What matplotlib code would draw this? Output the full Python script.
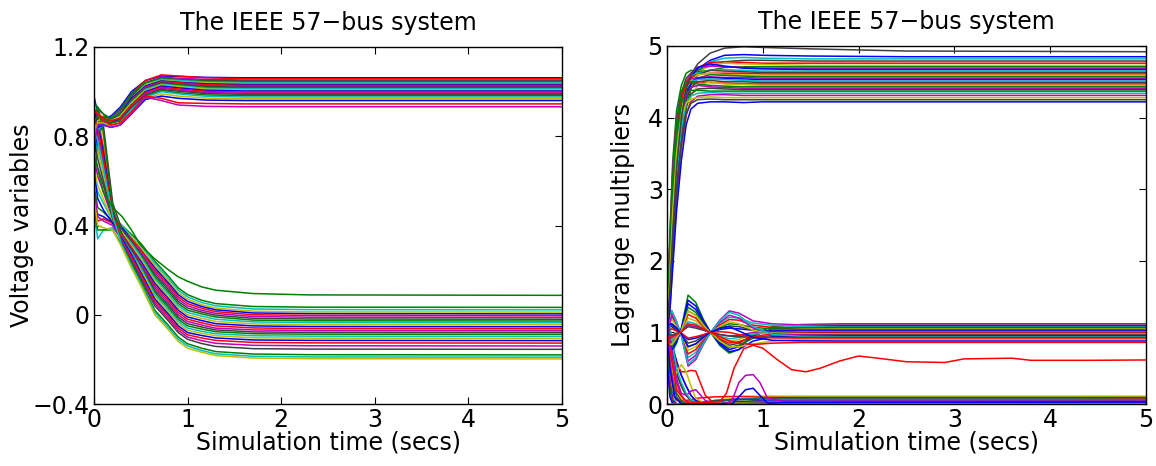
import matplotlib
matplotlib.use("Agg")
import matplotlib.pyplot as plt

plt.rcParams['font.family'] = ['DejaVu Sans']

# MATLAB (pre-2014) default colour order
line_colors = [(0, 0, 1), (0, 0.5, 0), (1, 0, 0), (0, 0.75, 0.75),
               (0.75, 0, 0.75), (0.75, 0.75, 0), (0.25, 0.25, 0.25)]

title_text = "The IEEE 57\u2212bus system"
xlabel_text = "Simulation time (secs)"
left_ylabel = "Voltage variables"
right_ylabel = "Lagrange multipliers"
left_yticks = [-0.4, 0, 0.4, 0.8, 1.2]
left_yticklabels = ["\u22120.4", "0", "0.4", "0.8", "1.2"]
right_yticks = [0, 1, 2, 3, 4, 5]
xticks = [0, 1, 2, 3, 4, 5]

# ---------------- left panel: voltage magnitudes (upper bundle) ----------
t_upper = [0, 0.04, 0.1, 0.18, 0.28, 0.4, 0.55, 0.72, 0.9, 1.2, 1.6, 2.5, 5.0]
v_upper = [
    [0.98, 0.90, 0.88, 0.89, 0.93, 1.00, 1.05, 1.070, 1.068, 1.064, 1.062, 1.062, 1.062],
    [0.62, 0.84, 0.87, 0.88, 0.92, 0.99, 1.05, 1.075, 1.070, 1.062, 1.058, 1.058, 1.058],
    [0.90, 0.92, 0.90, 0.87, 0.91, 0.99, 1.04, 1.065, 1.060, 1.055, 1.052, 1.052, 1.052],
    [0.70, 0.85, 0.86, 0.86, 0.90, 0.98, 1.04, 1.060, 1.055, 1.050, 1.048, 1.048, 1.048],
    [0.85, 0.88, 0.89, 0.88, 0.92, 0.99, 1.04, 1.058, 1.052, 1.046, 1.044, 1.044, 1.044],
    [0.55, 0.80, 0.85, 0.86, 0.89, 0.97, 1.03, 1.055, 1.050, 1.043, 1.040, 1.040, 1.040],
    [0.93, 0.91, 0.88, 0.87, 0.90, 0.97, 1.03, 1.050, 1.045, 1.039, 1.036, 1.036, 1.036],
    [0.78, 0.86, 0.87, 0.87, 0.90, 0.97, 1.025, 1.048, 1.042, 1.035, 1.032, 1.032, 1.032],
    [0.66, 0.83, 0.86, 0.86, 0.89, 0.96, 1.02, 1.045, 1.040, 1.031, 1.028, 1.028, 1.028],
    [0.88, 0.90, 0.88, 0.87, 0.89, 0.96, 1.02, 1.042, 1.036, 1.027, 1.024, 1.024, 1.024],
    [0.72, 0.85, 0.86, 0.86, 0.88, 0.95, 1.015, 1.040, 1.033, 1.023, 1.020, 1.020, 1.020],
    [0.95, 0.93, 0.90, 0.88, 0.90, 0.96, 1.01, 1.036, 1.030, 1.019, 1.016, 1.016, 1.016],
    [0.60, 0.82, 0.85, 0.86, 0.88, 0.95, 1.01, 1.033, 1.026, 1.015, 1.012, 1.012, 1.012],
    [0.82, 0.87, 0.87, 0.87, 0.89, 0.95, 1.005, 1.030, 1.022, 1.011, 1.008, 1.008, 1.008],
    [0.68, 0.84, 0.86, 0.86, 0.88, 0.94, 1.00, 1.025, 1.017, 1.006, 1.003, 1.003, 1.003],
    [0.91, 0.90, 0.88, 0.87, 0.88, 0.94, 0.995, 1.020, 1.012, 1.001, 0.998, 0.998, 0.998],
    [0.75, 0.86, 0.87, 0.86, 0.87, 0.93, 0.99, 1.015, 1.007, 0.996, 0.993, 0.993, 0.993],
    [0.58, 0.81, 0.85, 0.86, 0.87, 0.93, 0.985, 1.010, 1.002, 0.991, 0.988, 0.988, 0.988],
    [0.86, 0.89, 0.88, 0.86, 0.87, 0.92, 0.98, 1.005, 0.995, 0.985, 0.982, 0.982, 0.982],
    [0.64, 0.83, 0.85, 0.85, 0.86, 0.92, 0.975, 1.000, 0.990, 0.979, 0.976, 0.976, 0.976],
    [0.80, 0.86, 0.86, 0.85, 0.86, 0.91, 0.97, 0.990, 0.980, 0.971, 0.968, 0.968, 0.968],
    [0.70, 0.84, 0.85, 0.84, 0.85, 0.90, 0.965, 0.980, 0.970, 0.962, 0.960, 0.960, 0.960],
    [0.92, 0.90, 0.87, 0.85, 0.86, 0.91, 0.98, 0.970, 0.950, 0.947, 0.945, 0.945, 0.945],
    [0.76, 0.85, 0.85, 0.84, 0.85, 0.90, 0.975, 0.960, 0.940, 0.934, 0.932, 0.932, 0.932],
]

# ---------------- left panel: voltage angles (lower bundle) --------------
t_lower = [0, 0.04, 0.1, 0.2, 0.3, 0.4, 0.5, 0.65, 0.8, 0.9, 1.0, 1.15, 1.3, 1.7, 2.3, 5.0]
v_lower = [
    [0.90, 0.86, 0.70, 0.44, 0.40, 0.36, 0.32, 0.24, 0.17, 0.12, 0.09, 0.065, 0.05, 0.037, 0.034, 0.033],
    [0.62, 0.55, 0.50, 0.42, 0.40, 0.35, 0.31, 0.23, 0.16, 0.11, 0.08, 0.055, 0.04, 0.026, 0.023, 0.022],
    [0.85, 0.90, 0.80, 0.46, 0.39, 0.35, 0.30, 0.22, 0.15, 0.10, 0.07, 0.045, 0.03, 0.016, 0.013, 0.012],
    [0.50, 0.45, 0.44, 0.41, 0.39, 0.34, 0.29, 0.21, 0.14, 0.09, 0.06, 0.037, 0.022, 0.008, 0.005, 0.004],
    [0.93, 0.88, 0.75, 0.45, 0.38, 0.34, 0.29, 0.20, 0.13, 0.08, 0.05, 0.029, 0.014, 0.0, -0.003, -0.004],
    [0.70, 0.62, 0.55, 0.43, 0.38, 0.33, 0.28, 0.19, 0.12, 0.07, 0.04, 0.020, 0.006, -0.008, -0.011, -0.012],
    [0.88, 0.92, 0.85, 0.50, 0.38, 0.33, 0.27, 0.18, 0.11, 0.06, 0.03, 0.012, -0.002, -0.016, -0.019, -0.020],
    [0.58, 0.48, 0.46, 0.42, 0.37, 0.32, 0.27, 0.17, 0.10, 0.05, 0.02, 0.004, -0.010, -0.024, -0.027, -0.028],
    [0.80, 0.75, 0.65, 0.44, 0.37, 0.32, 0.26, 0.16, 0.09, 0.04, 0.01, -0.006, -0.020, -0.032, -0.035, -0.036],
    [0.66, 0.58, 0.52, 0.42, 0.37, 0.31, 0.25, 0.15, 0.08, 0.03, 0.0, -0.016, -0.030, -0.041, -0.044, -0.045],
    [0.92, 0.86, 0.72, 0.46, 0.36, 0.30, 0.24, 0.14, 0.07, 0.02, -0.01, -0.026, -0.040, -0.050, -0.053, -0.054],
    [0.54, 0.42, 0.43, 0.41, 0.36, 0.30, 0.23, 0.13, 0.06, 0.01, -0.02, -0.036, -0.050, -0.059, -0.062, -0.063],
    [0.86, 0.80, 0.68, 0.44, 0.36, 0.29, 0.23, 0.12, 0.05, 0.0, -0.03, -0.046, -0.060, -0.068, -0.071, -0.072],
    [0.74, 0.66, 0.58, 0.43, 0.35, 0.29, 0.22, 0.11, 0.04, -0.01, -0.04, -0.055, -0.068, -0.077, -0.079, -0.080],
    [0.90, 0.93, 0.82, 0.48, 0.35, 0.28, 0.21, 0.10, 0.03, -0.02, -0.05, -0.064, -0.076, -0.085, -0.087, -0.088],
    [0.46, 0.34, 0.38, 0.39, 0.34, 0.28, 0.21, 0.09, 0.02, -0.03, -0.06, -0.074, -0.085, -0.094, -0.096, -0.097],
    [0.82, 0.74, 0.62, 0.43, 0.34, 0.27, 0.20, 0.08, 0.01, -0.04, -0.07, -0.083, -0.094, -0.103, -0.105, -0.106],
    [0.64, 0.52, 0.47, 0.41, 0.34, 0.27, 0.19, 0.07, 0.0, -0.05, -0.08, -0.093, -0.104, -0.113, -0.115, -0.116],
    [0.88, 0.84, 0.70, 0.45, 0.33, 0.26, 0.18, 0.06, -0.01, -0.06, -0.09, -0.104, -0.115, -0.124, -0.126, -0.127],
    [0.56, 0.44, 0.42, 0.40, 0.33, 0.25, 0.17, 0.05, -0.02, -0.07, -0.10, -0.116, -0.128, -0.137, -0.139, -0.140],
    [0.78, 0.70, 0.60, 0.43, 0.32, 0.24, 0.16, 0.04, -0.03, -0.08, -0.11, -0.129, -0.142, -0.152, -0.154, -0.155],
    [0.48, 0.38, 0.38, 0.38, 0.31, 0.23, 0.15, 0.02, -0.05, -0.10, -0.13, -0.150, -0.165, -0.176, -0.179, -0.180],
    [0.84, 0.78, 0.66, 0.44, 0.31, 0.22, 0.14, 0.01, -0.06, -0.11, -0.14, -0.160, -0.175, -0.186, -0.189, -0.190],
    [0.52, 0.40, 0.39, 0.38, 0.30, 0.21, 0.13, 0.0, -0.07, -0.12, -0.15, -0.168, -0.183, -0.194, -0.197, -0.198],
]
# the one angle that settles near 0.09 (green)
v_lower_green = [0.72, 0.65, 0.55, 0.48, 0.44, 0.38, 0.31, 0.25, 0.20, 0.17, 0.15, 0.125, 0.11, 0.095, 0.089, 0.087]

# ---------------- right panel: multipliers near 4.2-4.9 --------------------
t_high = [0, 0.03, 0.06, 0.1, 0.15, 0.2, 0.25, 0.32, 0.45, 0.6, 0.8, 1.0, 1.5, 2.5, 5.0]
# top (dark grey) multiplier
m_high_gray = [1.0, 1.6, 2.4, 3.3, 4.0, 4.4, 4.6, 4.75, 4.9, 4.97, 4.99, 4.98, 4.96, 4.93, 4.92]
m_high = [
    [1.1, 1.9, 2.8, 3.6, 4.2, 4.45, 4.58, 4.68, 4.8, 4.87, 4.88, 4.87, 4.86, 4.85, 4.85],
    [0.9, 1.5, 2.3, 3.2, 3.9, 4.3, 4.5, 4.66, 4.78, 4.83, 4.84, 4.83, 4.82, 4.82, 4.82],
    [1.2, 2.2, 3.2, 3.9, 4.35, 4.55, 4.62, 4.66, 4.72, 4.78, 4.80, 4.80, 4.79, 4.79, 4.79],
    [1.0, 1.7, 2.6, 3.4, 4.0, 4.35, 4.55, 4.7, 4.77, 4.78, 4.77, 4.76, 4.76, 4.76, 4.76],
    [0.8, 1.3, 2.0, 2.9, 3.6, 4.1, 4.4, 4.62, 4.74, 4.76, 4.75, 4.74, 4.73, 4.73, 4.73],
    [1.3, 2.4, 3.4, 4.1, 4.45, 4.62, 4.66, 4.64, 4.66, 4.7, 4.71, 4.71, 4.71, 4.71, 4.71],
    [1.0, 1.9, 2.9, 3.7, 4.25, 4.5, 4.62, 4.7, 4.72, 4.71, 4.7, 4.69, 4.69, 4.69, 4.69],
    [0.9, 1.6, 2.5, 3.3, 3.95, 4.35, 4.55, 4.7, 4.75, 4.72, 4.69, 4.68, 4.67, 4.67, 4.67],
    [1.1, 2.0, 3.0, 3.8, 4.3, 4.5, 4.58, 4.62, 4.66, 4.67, 4.66, 4.65, 4.65, 4.65, 4.65],
    [1.0, 1.5, 2.3, 3.1, 3.8, 4.25, 4.47, 4.6, 4.66, 4.65, 4.64, 4.63, 4.63, 4.63, 4.63],
    [1.2, 2.1, 3.1, 3.85, 4.3, 4.5, 4.57, 4.6, 4.62, 4.62, 4.62, 4.61, 4.61, 4.61, 4.61],
    [0.9, 1.8, 2.7, 3.5, 4.1, 4.4, 4.52, 4.6, 4.62, 4.6, 4.6, 4.59, 4.59, 4.59, 4.59],
    [1.0, 1.4, 2.2, 3.0, 3.7, 4.15, 4.4, 4.55, 4.6, 4.59, 4.58, 4.57, 4.57, 4.57, 4.57],
    [1.1, 2.3, 3.3, 4.0, 4.35, 4.5, 4.54, 4.56, 4.57, 4.56, 4.56, 4.55, 4.55, 4.55, 4.55],
    [0.85, 1.6, 2.5, 3.3, 3.95, 4.3, 4.47, 4.55, 4.56, 4.55, 4.54, 4.53, 4.53, 4.53, 4.53],
    [1.0, 1.9, 2.9, 3.7, 4.2, 4.42, 4.5, 4.53, 4.54, 4.53, 4.52, 4.51, 4.51, 4.51, 4.51],
    [1.2, 1.7, 2.5, 3.3, 3.9, 4.25, 4.42, 4.5, 4.52, 4.5, 4.5, 4.49, 4.49, 4.49, 4.49],
    [0.95, 2.0, 3.0, 3.8, 4.25, 4.45, 4.5, 4.5, 4.49, 4.48, 4.47, 4.47, 4.47, 4.47, 4.47],
    [1.0, 1.3, 2.0, 2.8, 3.5, 4.0, 4.3, 4.45, 4.5, 4.47, 4.46, 4.45, 4.45, 4.45, 4.45],
    [1.1, 2.2, 3.2, 3.95, 4.35, 4.5, 4.5, 4.47, 4.45, 4.44, 4.43, 4.43, 4.43, 4.43, 4.43],
    [0.9, 1.7, 2.6, 3.4, 4.0, 4.3, 4.42, 4.45, 4.43, 4.42, 4.41, 4.41, 4.41, 4.41, 4.41],
    [1.0, 1.5, 2.3, 3.1, 3.75, 4.15, 4.33, 4.4, 4.41, 4.4, 4.39, 4.39, 4.39, 4.39, 4.39],
    [1.15, 2.1, 3.0, 3.75, 4.2, 4.35, 4.38, 4.38, 4.37, 4.37, 4.37, 4.37, 4.37, 4.37, 4.37],
    [0.95, 1.6, 2.4, 3.2, 3.85, 4.2, 4.3, 4.34, 4.35, 4.34, 4.34, 4.34, 4.34, 4.34, 4.34],
    [1.0, 1.4, 2.1, 2.9, 3.6, 4.05, 4.22, 4.3, 4.32, 4.32, 4.31, 4.31, 4.31, 4.31, 4.31],
    [1.05, 1.8, 2.7, 3.5, 4.0, 4.2, 4.26, 4.28, 4.29, 4.28, 4.28, 4.28, 4.28, 4.28, 4.28],
    [0.9, 1.5, 2.2, 3.0, 3.65, 4.05, 4.2, 4.25, 4.26, 4.25, 4.25, 4.25, 4.25, 4.25, 4.25],
    [1.0, 1.3, 1.9, 2.7, 3.4, 3.9, 4.12, 4.2, 4.22, 4.22, 4.21, 4.22, 4.22, 4.22, 4.22],
]

# ---------------- right panel: multipliers near 1 --------------------------
t_mid = [0, 0.05, 0.1, 0.15, 0.22, 0.3, 0.38, 0.45, 0.55, 0.65, 0.75, 0.9, 1.1, 1.4, 1.8, 2.5, 5.0]
m_mid = [
    [1.0, 0.72, 0.85, 1.06, 1.52, 1.42, 1.18, 1.01, 0.82, 0.71, 0.76, 0.98, 1.08, 1.11, 1.12, 1.12, 1.12],
    [1.25, 1.30, 1.15, 0.95, 0.53, 0.62, 0.83, 0.99, 1.17, 1.30, 1.27, 1.16, 1.12, 1.105, 1.10, 1.10, 1.10],
    [0.9, 0.78, 0.88, 1.04, 1.40, 1.32, 1.14, 1.01, 0.86, 0.76, 0.80, 0.95, 1.05, 1.08, 1.09, 1.09, 1.09],
    [1.1, 1.22, 1.10, 0.97, 0.65, 0.72, 0.88, 1.0, 1.12, 1.21, 1.20, 1.13, 1.10, 1.085, 1.08, 1.08, 1.08],
    [0.95, 0.82, 0.92, 1.03, 1.30, 1.24, 1.10, 1.0, 0.90, 0.82, 0.85, 0.96, 1.04, 1.065, 1.07, 1.07, 1.07],
    [1.3, 1.25, 1.10, 0.97, 0.70, 0.76, 0.90, 1.0, 1.10, 1.18, 1.17, 1.10, 1.07, 1.062, 1.06, 1.06, 1.06],
    [0.85, 0.88, 0.95, 1.02, 1.20, 1.16, 1.07, 1.0, 0.93, 0.88, 0.90, 0.98, 1.03, 1.045, 1.05, 1.05, 1.05],
    [1.05, 1.12, 1.06, 0.98, 0.80, 0.84, 0.93, 1.0, 1.07, 1.12, 1.11, 1.07, 1.05, 1.042, 1.04, 1.04, 1.04],
    [1.0, 0.95, 0.98, 1.01, 1.10, 1.08, 1.04, 1.0, 0.97, 0.95, 0.96, 1.0, 1.02, 1.028, 1.03, 1.03, 1.03],
    [1.15, 1.08, 1.03, 0.99, 0.90, 0.92, 0.96, 1.0, 1.04, 1.06, 1.05, 1.03, 1.02, 1.02, 1.02, 1.02, 1.02],
    [0.8, 0.90, 0.96, 1.02, 1.15, 1.12, 1.05, 1.0, 0.95, 0.91, 0.93, 0.98, 1.0, 1.01, 1.01, 1.01, 1.01],
    [1.2, 1.10, 1.04, 0.98, 0.85, 0.88, 0.95, 1.0, 1.05, 1.09, 1.08, 1.03, 1.01, 1.0, 1.0, 1.0, 1.0],
    [0.95, 0.85, 0.93, 1.03, 1.25, 1.20, 1.08, 1.0, 0.91, 0.85, 0.87, 0.94, 0.98, 0.99, 0.99, 0.99, 0.99],
    [1.05, 1.18, 1.08, 0.97, 0.75, 0.80, 0.92, 1.0, 1.08, 1.15, 1.12, 1.03, 0.99, 0.982, 0.98, 0.98, 0.98],
    [1.1, 0.80, 0.90, 1.04, 1.35, 1.28, 1.12, 1.01, 0.88, 0.79, 0.82, 0.92, 0.96, 0.97, 0.97, 0.97, 0.97],
    [0.9, 1.26, 1.12, 0.96, 0.60, 0.68, 0.86, 0.99, 1.14, 1.24, 1.20, 1.06, 0.98, 0.965, 0.96, 0.96, 0.96],
    [1.0, 0.75, 0.87, 1.05, 1.45, 1.37, 1.16, 1.01, 0.84, 0.73, 0.76, 0.88, 0.94, 0.95, 0.95, 0.95, 0.95],
    [1.2, 1.30, 1.14, 0.95, 0.56, 0.65, 0.84, 0.99, 1.16, 1.28, 1.24, 1.08, 0.97, 0.945, 0.94, 0.94, 0.94],
    [0.98, 0.96, 0.99, 1.01, 1.08, 1.06, 1.03, 1.0, 0.97, 0.95, 0.94, 0.93, 0.93, 0.93, 0.93, 0.93, 0.93],
    [1.02, 1.05, 1.02, 0.99, 0.92, 0.94, 0.97, 1.0, 1.01, 1.0, 0.97, 0.94, 0.925, 0.92, 0.92, 0.92, 0.92],
    [0.85, 0.83, 0.92, 1.03, 1.30, 1.24, 1.10, 1.0, 0.88, 0.80, 0.80, 0.84, 0.88, 0.90, 0.90, 0.90, 0.90],
    [1.1, 1.12, 1.06, 0.98, 0.80, 0.84, 0.93, 1.0, 1.06, 1.08, 1.02, 0.93, 0.89, 0.882, 0.88, 0.88, 0.88],
    [0.95, 0.93, 0.97, 1.01, 1.12, 1.10, 1.05, 1.0, 0.94, 0.88, 0.85, 0.83, 0.85, 0.86, 0.86, 0.86, 0.86],
]

# ---------------- right panel: multipliers near 0 --------------------------
t_zero = [0, 0.03, 0.06, 0.1, 0.15, 0.2, 0.25, 0.3, 0.4, 0.5, 0.7, 1.0, 1.5, 5.0]
m_zero = [
    [1.0, 0.5, 0.15, 0.05, 0.04, 0.05, 0.06, 0.08, 0.09, 0.10, 0.105, 0.105, 0.105, 0.105],
    [1.2, 0.8, 0.5, 0.25, 0.08, 0.02, 0.0, 0.0, 0.02, 0.05, 0.08, 0.095, 0.10, 0.10],
    [0.9, 0.7, 0.55, 0.4, 0.25, 0.12, 0.05, 0.02, 0.02, 0.03, 0.06, 0.085, 0.09, 0.09],
    [1.1, 0.9, 0.75, 0.58, 0.4, 0.25, 0.12, 0.04, 0.0, 0.03, 0.07, 0.08, 0.085, 0.085],
    [1.0, 0.95, 0.8, 0.6, 0.4, 0.25, 0.12, 0.05, 0.02, 0.04, 0.06, 0.075, 0.08, 0.08],
    [0.8, 0.4, 0.1, 0.0, 0.0, 0.0, 0.0, 0.0, 0.01, 0.04, 0.065, 0.07, 0.075, 0.075],
    [1.3, 1.0, 0.7, 0.45, 0.25, 0.12, 0.05, 0.02, 0.03, 0.05, 0.06, 0.068, 0.07, 0.07],
    [1.0, 0.9, 0.75, 0.55, 0.45, 0.45, 0.47, 0.46, 0.12, 0.0, 0.0, 0.02, 0.04, 0.065],
    [0.9, 0.5, 0.2, 0.45, 0.55, 0.45, 0.25, 0.08, 0.0, 0.0, 0.02, 0.05, 0.06, 0.06],
    [1.0, 0.6, 0.3, 0.1, 0.02, 0.0, 0.0, 0.0, 0.0, 0.0, 0.03, 0.05, 0.055, 0.055],
    [1.1, 0.85, 0.6, 0.35, 0.15, 0.12, 0.18, 0.2, 0.05, 0.0, 0.02, 0.045, 0.05, 0.05],
    [0.7, 0.3, 0.05, 0.0, 0.0, 0.0, 0.0, 0.0, 0.0, 0.0, 0.02, 0.04, 0.045, 0.045],
    [1.4, 1.1, 0.8, 0.5, 0.3, 0.15, 0.06, 0.02, 0.0, 0.0, 0.01, 0.035, 0.04, 0.04],
    [1.0, 0.7, 0.4, 0.15, 0.05, 0.01, 0.0, 0.0, 0.0, 0.0, 0.01, 0.03, 0.035, 0.035],
    [0.95, 0.3, 0.02, 0.0, 0.0, 0.0, 0.0, 0.0, 0.0, 0.0, 0.01, 0.025, 0.03, 0.03],
    [1.05, 0.75, 0.45, 0.2, 0.08, 0.03, 0.01, 0.0, 0.0, 0.0, 0.01, 0.02, 0.025, 0.025],
    [0.85, 0.2, 0.0, 0.0, 0.0, 0.0, 0.0, 0.0, 0.0, 0.0, 0.005, 0.015, 0.02, 0.02],
    [1.15, 0.9, 0.6, 0.3, 0.12, 0.04, 0.0, 0.0, 0.0, 0.0, 0.0, 0.01, 0.015, 0.015],
    [0.6, 0.1, 0.0, 0.0, 0.0, 0.0, 0.0, 0.0, 0.0, 0.0, 0.0, 0.005, 0.01, 0.01],
    [0.0, 0.0, 0.0, 0.0, 0.0, 0.0, 0.0, 0.0, 0.0, 0.0, 0.0, 0.0, 0.005, 0.005],
]

# two multipliers with a late bump near t = 0.85
t_bump = [0, 0.03, 0.08, 0.15, 0.6, 0.68, 0.75, 0.82, 0.9, 0.97, 1.05, 1.2, 5.0]
m_bump_magenta = [1.0, 0.6, 0.1, 0.0, 0.0, 0.05, 0.30, 0.40, 0.41, 0.30, 0.08, 0.04, 0.04]
m_bump_blue = [1.1, 0.5, 0.1, 0.0, 0.0, 0.0, 0.10, 0.20, 0.22, 0.12, 0.01, 0.02, 0.03]

# the red multiplier that settles near 0.6
t_red = [0, 0.05, 0.1, 0.2, 0.4, 0.55, 0.62, 0.7, 0.8, 0.9, 1.0, 1.15, 1.3, 1.45,
         1.6, 1.8, 2.0, 2.2, 2.5, 2.9, 3.1, 3.6, 3.8, 4.4, 5.0]
m_red = [1.0, 0.6, 0.2, 0.03, 0.02, 0.03, 0.15, 0.5, 0.77, 0.82, 0.78, 0.62, 0.48, 0.45,
         0.5, 0.6, 0.67, 0.64, 0.59, 0.58, 0.63, 0.64, 0.61, 0.61, 0.615]

# ---------------------------------------------------------------------------
fig = plt.figure(figsize=(11.56, 4.66), dpi=100)
ax1 = fig.add_axes([94 / 1156, 62 / 466, 468 / 1156, 357 / 466])
ax2 = fig.add_axes([667 / 1156, 62 / 466, 479 / 1156, 358 / 466])

LW = 1.1
FS = 17


def style(ax):
    ax.set_xlim(0, 5)
    ax.set_xticks(xticks)
    ax.set_xticklabels([str(x) for x in xticks])
    ax.tick_params(direction='in', top=True, right=True, length=5, width=0.8,
                   labelsize=FS, pad=3)
    for s in ax.spines.values():
        s.set_linewidth(1.0)
        s.set_color('black')
    ax.set_title(title_text, fontsize=FS, pad=12)
    ax.set_xlabel(xlabel_text, fontsize=FS, labelpad=-1)


ax1.set_prop_cycle(color=line_colors)
n = max(len(v_upper), len(v_lower))
for i in range(n):
    if i < len(v_upper):
        ax1.plot(t_upper, v_upper[i], lw=LW)
    if i < len(v_lower):
        ax1.plot(t_lower, v_lower[i], lw=LW)
ax1.plot(t_lower, v_lower_green, lw=LW, color=line_colors[1])
ax1.set_ylim(-0.4, 1.2)
ax1.set_yticks(left_yticks)
ax1.set_yticklabels(left_yticklabels)
ax1.set_ylabel(left_ylabel, fontsize=FS, labelpad=-1)
style(ax1)

ax2.set_prop_cycle(color=line_colors)
n = max(len(m_high), len(m_mid), len(m_zero))
for i in range(n):
    if i < len(m_high):
        ax2.plot(t_high, m_high[i], lw=LW)
    if i < len(m_mid):
        ax2.plot(t_mid, m_mid[i], lw=LW)
    if i < len(m_zero):
        ax2.plot(t_zero, m_zero[i], lw=LW)
ax2.plot(t_high, m_high_gray, lw=LW, color=line_colors[6])
ax2.plot(t_bump, m_bump_magenta, lw=LW, color=line_colors[4])
ax2.plot(t_bump, m_bump_blue, lw=LW, color=line_colors[0])
ax2.plot(t_red, m_red, lw=LW, color=line_colors[2])
ax2.set_ylim(0, 5)
ax2.set_yticks(right_yticks)
ax2.set_yticklabels([str(y) for y in right_yticks])
ax2.set_ylabel(right_ylabel, fontsize=FS, labelpad=9)
style(ax2)

fig.savefig("out.png", dpi=100)
